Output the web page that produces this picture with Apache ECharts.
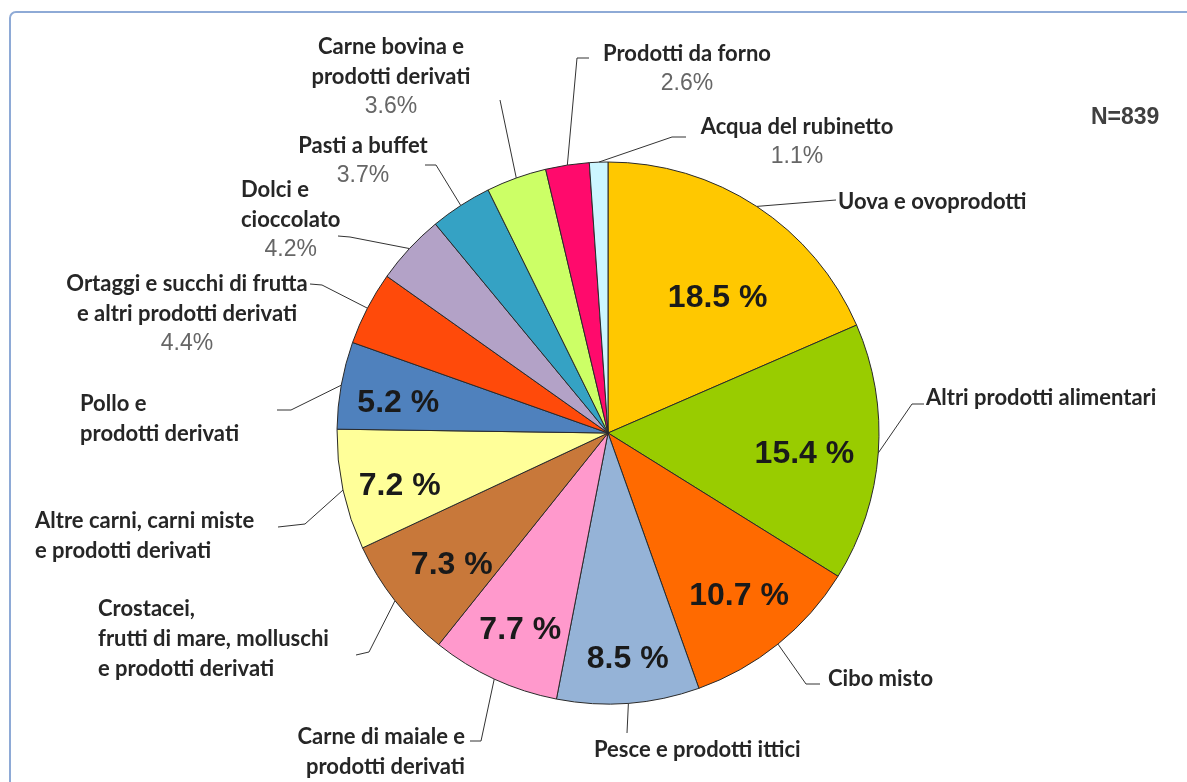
<!DOCTYPE html>
<html>
<head>
<meta charset="utf-8">
<script src="https://cdn.jsdelivr.net/npm/echarts@6/dist/echarts.min.js"></script>
<style>
  html, body { margin: 0; padding: 0; background: #fff; }
  #chart { width: 1187px; height: 782px; }
</style>
</head>
<body>
<div id="chart"></div>
<script>
  // data, clockwise from 12 o'clock
  const categories = [
    'Uova e ovoprodotti',
    'Altri prodotti alimentari',
    'Cibo misto',
    'Pesce e prodotti ittici',
    'Carne di maiale e\nprodotti derivati',
    'Crostacei,\nfrutti di mare, molluschi\ne prodotti derivati',
    'Altre carni, carni miste\ne prodotti derivati',
    'Pollo e\nprodotti derivati',
    'Ortaggi e succhi di frutta\ne altri prodotti derivati',
    'Dolci e\ncioccolato',
    'Pasti a buffet',
    'Carne bovina e\nprodotti derivati',
    'Prodotti da forno',
    'Acqua del rubinetto'
  ];
  const values = [18.5, 15.4, 10.7, 8.5, 7.7, 7.3, 7.2, 5.2, 4.4, 4.2, 3.7, 3.6, 2.6, 1.1];
  const colors = ['#ffc800', '#99cc00', '#ff6a00', '#95b3d7', '#ff99cc', '#c8783a', '#ffff99',
    '#4f81bd', '#ff4a0a', '#b3a2c7', '#35a2c4', '#ccff66', '#ff0a6c', '#ccf6ff'];
  const sampleSize = 'N=839';

  // where each outside label sits: text anchor, align, leader elbow and end
  const labelSpots = [
    { x: 838, y: 202, align: 'left', elbow: [836, 200], end: [836, 200] },
    { x: 926, y: 398, align: 'left', elbow: [912, 404], end: [924, 404] },
    { x: 828, y: 679, align: 'left', elbow: [806, 684], end: [820, 684] },
    { x: 594, y: 750, align: 'left', elbow: [627, 733], end: [627, 733] },
    { x: 465, y: 737, align: 'right', elbow: [481, 741], end: [470, 741] },
    { x: 98, y: 609, align: 'left', elbow: [369, 652], end: [356, 655] },
    { x: 35, y: 521, align: 'left', elbow: [305, 524], end: [278, 527] },
    { x: 80, y: 404, align: 'left', elbow: [291, 410], end: [277, 410] },
    { x: 187, y: 284, align: 'center', elbow: [322, 285], end: [310, 284] },
    { x: 241, y: 190, align: 'left', elbow: [350, 237], end: [338, 236] },
    { x: 363, y: 146, align: 'center', elbow: [436, 165], end: [425, 165] },
    { x: 391, y: 47, align: 'center', elbow: [500, 100], end: [500, 100] },
    { x: 687, y: 54, align: 'center', elbow: [577, 58], end: [589, 58] },
    { x: 797, y: 127, align: 'center', elbow: [672, 137], end: [686, 137] }
  ];
  // nudges for the big percentages drawn inside the slices
  const insideShift = [[-5, 40], [-12, 6], [0, 0], [4, 18], [0, 7], [8, 3], [-4, 9], [-4, 7]];

  const LINE_H = 30;
  const pieData = categories.map((name, i) => ({ name, value: values[i], itemStyle: { color: colors[i] } }));

  const chart = echarts.init(document.getElementById('chart'));
  chart.setOption({
    backgroundColor: '#fff',
    animation: false,
    graphic: [
      {
        type: 'rect',
        shape: { x: 10, y: 12, width: 1200, height: 800, r: 6 },
        style: { fill: 'none', stroke: '#8eaad6', lineWidth: 2 }
      },
      {
        type: 'text',
        left: 1091,
        top: 106,
        style: { text: sampleSize, font: 'bold 23px "Liberation Sans", Arial', fill: '#404040' }
      }
    ],
    series: [
      {
        type: 'pie',
        center: [608, 433],
        radius: [0, 271],
        startAngle: 90,
        avoidLabelOverlap: false,
        itemStyle: { borderColor: '#2a2a2a', borderWidth: 1 },
        label: {
          show: true,
          position: 'outer',
          formatter: (p) => {
            let s = '{n|' + p.name.split('\n').join('}\n{n|') + '}';
            if (p.value < 5) s += '\n{p|' + p.value.toFixed(1) + '%}';
            return s;
          },
          rich: {
            n: { fontFamily: 'Lato', fontWeight: 'bold', fontSize: 22, color: '#262626', lineHeight: LINE_H },
            p: { fontFamily: '"Liberation Sans", Arial', fontSize: 23, color: '#666', lineHeight: LINE_H, align: 'center' }
          }
        },
        labelLine: { show: true, lineStyle: { color: '#333', width: 1 } },
        labelLayout: (params) => {
          const s = labelSpots[params.dataIndex];
          return {
            x: s.x,
            y: s.y - LINE_H / 2,
            align: s.align,
            verticalAlign: 'top',
            labelLinePoints: [params.labelLinePoints[0], s.elbow, s.end]
          };
        },
        emphasis: { disabled: true },
        data: pieData
      },
      {
        type: 'pie',
        center: [608, 433],
        radius: [141, 271],
        startAngle: 90,
        silent: true,
        z: 5,
        itemStyle: { color: 'rgba(0,0,0,0)', borderWidth: 0 },
        label: {
          show: true,
          position: 'inside',
          formatter: (p) => (p.value >= 5 ? p.value.toFixed(1) + ' %' : ''),
          fontFamily: '"Liberation Sans", Arial',
          fontWeight: 'bold',
          fontSize: 32,
          color: '#1a1a1a'
        },
        labelLine: { show: false },
        labelLayout: (params) => {
          const d = insideShift[params.dataIndex] || [0, 0];
          return { dx: d[0], dy: d[1] };
        },
        emphasis: { disabled: true },
        data: categories.map((name, i) => ({ name, value: values[i] }))
      }
    ]
  });
  window.addEventListener('resize', () => chart.resize());
</script>
</body>
</html>
